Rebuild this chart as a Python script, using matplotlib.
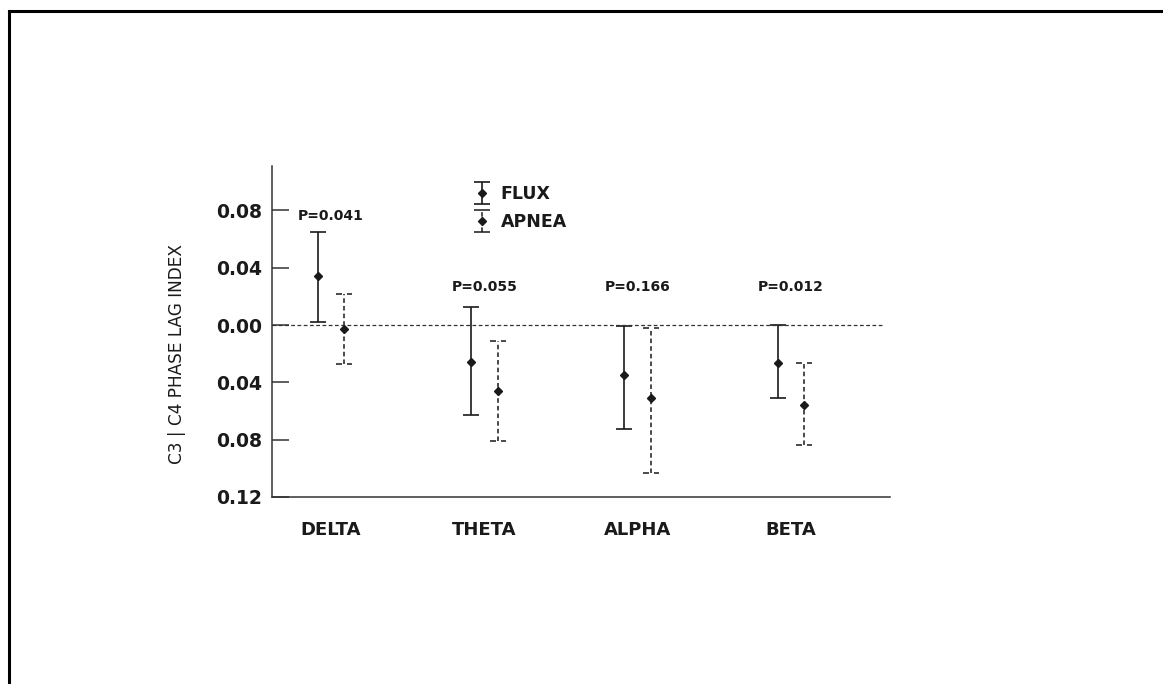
import numpy as np
import matplotlib
matplotlib.use("Agg")
import matplotlib.pyplot as plt
from matplotlib import font_manager
from matplotlib.path import Path
from matplotlib.lines import Line2D
from matplotlib.legend_handler import HandlerErrorbar

# values
bands = ["DELTA", "THETA", "ALPHA", "BETA"]
flux_mean = [0.034, -0.0255, -0.035, -0.0267]
flux_low = [0.0023, -0.063, -0.0725, -0.0506]
flux_high = [0.065, 0.0127, -0.001, 0.0]
apnea_mean = [-0.003, -0.046, -0.051, -0.0557]
apnea_low = [-0.027, -0.081, -0.103, -0.0837]
apnea_high = [0.022, -0.011, -0.002, -0.0267]
p_labels = ["P=0.041", "P=0.055", "P=0.166", "P=0.012"]
p_heights = [0.076, 0.0265, 0.0265, 0.0265]
y_ticks = [0.08, 0.04, 0.0, -0.04, -0.08, -0.12]
y_tick_labels = ["0.08", "0.04", "0.00", "0.04", "0.08", "0.12"]

ink = "#1a1a1a"
W, H = 1163, 684
fig = plt.figure(figsize=(W / 100, H / 100), dpi=100)
ax = fig.add_axes([272 / W, 1 - 497 / H, (890 - 272) / W, (497 - 166) / H])

x = np.arange(len(bands))
off = 0.087

fm = np.array(flux_mean)
am = np.array(apnea_mean)
flux = ax.errorbar(x - off, fm, yerr=[fm - np.array(flux_low), np.array(flux_high) - fm],
                   fmt="D", color=ink, ms=4.5, elinewidth=1.2, capsize=6, capthick=1.2,
                   label="FLUX")
apnea = ax.errorbar(x + off, am, yerr=[am - np.array(apnea_low), np.array(apnea_high) - am],
                    fmt="D", color=ink, ms=4.5, elinewidth=1.1, capsize=6, capthick=1.1,
                    label="APNEA")
apnea[2][0].set_linestyle((0, (3, 2)))
# dashed-looking caps for the apnea bars
cap_path = Path([(-1, 0), (-0.3, 0), (0.3, 0), (1, 0)],
                [Path.MOVETO, Path.LINETO, Path.MOVETO, Path.LINETO])
for cl in apnea[1]:
    cl.set_marker(cap_path)

ax.axhline(0, xmin=0, xmax=0.987, color="#333333", lw=0.9, ls=(0, (3, 2)))

for xi, lab, h in zip(x, p_labels, p_heights):
    ax.text(xi, h, lab, ha="center", va="center", fontsize=10, fontweight="bold", color=ink)

ax.set_xlim(-0.385, 3.646)
ax.set_ylim(-0.12, 0.111)
ax.set_xticks(x)
ax.set_xticklabels(bands, fontsize=13, fontweight="bold", color=ink)
ax.set_yticks(y_ticks)
ax.set_yticklabels(y_tick_labels, fontsize=13.5, fontweight="bold", color=ink)
ax.tick_params(axis="x", length=0, pad=17)
ax.tick_params(axis="y", direction="in", length=12, width=1.1, color="#333333", pad=7)

for s in ["top", "right"]:
    ax.spines[s].set_visible(False)
for s in ["left", "bottom"]:
    ax.spines[s].set_linewidth(1.1)
    ax.spines[s].set_color("#333333")

leg = ax.legend(handles=[flux, apnea], loc="upper left", bbox_to_anchor=(0.3, 0.99),
                frameon=False, handlelength=1.0, handletextpad=0.6, labelspacing=0.58,
                prop={"size": 12.5, "weight": "bold"},
                handler_map={type(flux): HandlerErrorbar(xerr_size=0.4, yerr_size=0.65)})
for t in leg.get_texts():
    t.set_color(ink)

# y label in a narrow face if one is available
names = {f.name for f in font_manager.fontManager.ttflist}
if "Liberation Sans Narrow" in names:
    lab_font, lab_size = "Liberation Sans Narrow", 14
else:
    lab_font, lab_size = "DejaVu Sans", 12.2
fig.text(177 / W, 1 - 354 / H, "C3 | C4 PHASE LAG INDEX", rotation=90, ha="center",
         va="center", fontsize=lab_size, color=ink, family=lab_font)

# outer frame (top and left edges only)
fig.add_artist(Line2D([9 / W, 9 / W], [0, 1 - 11 / H], color="black", lw=2.2,
                      transform=fig.transFigure, solid_capstyle="butt"))
fig.add_artist(Line2D([9 / W, 1], [1 - 11 / H, 1 - 11 / H], color="black", lw=2.2,
                      transform=fig.transFigure, solid_capstyle="projecting"))

fig.savefig("out.png", dpi=100)
